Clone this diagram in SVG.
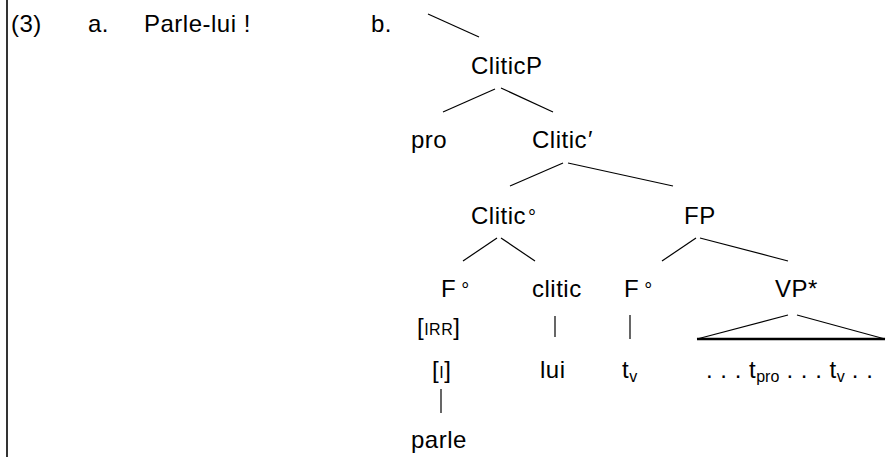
<svg xmlns="http://www.w3.org/2000/svg" width="886" height="457" viewBox="0 0 886 457">
<style>
text{font-family:"Liberation Sans",Arial,sans-serif;font-size:24px;letter-spacing:0.5px;fill:#000}
.sc{font-size:16px}
.sub{font-size:16px;letter-spacing:0}
.deg{font-size:20px}
.ln line{stroke:#000;stroke-width:1.2}
</style>
<rect width="886" height="457" fill="#fff"/>
<line x1="7" y1="0" x2="7" y2="457" stroke="#000" stroke-width="1.6"/>
<g id="labels">
<text x="11" y="32">(3)</text>
<text x="88" y="32">a.</text>
<text x="144" y="32">Parle-lui !</text>
<text x="371" y="32">b.</text>
</g>
<g id="n-cliticp"><text x="471" y="74">CliticP</text></g>
<g id="n-pro"><text x="411" y="148">pro</text></g>
<g id="n-clitic-bar"><text x="532" y="148">Clitic<tspan dx="1">′</tspan></text></g>
<g id="n-clitic0"><text x="471" y="224">Clitic<tspan class="deg" dx="2">°</tspan></text></g>
<g id="n-fp"><text x="684" y="224">FP</text></g>
<g id="n-f0a"><text x="441" y="297">F<tspan class="deg" dx="5">°</tspan></text></g>
<g id="n-clitic"><text x="532" y="297">clitic</text></g>
<g id="n-f0b"><text x="624" y="297">F<tspan class="deg" dx="5">°</tspan></text></g>
<g id="n-vp"><text x="775" y="297">VP*</text></g>
<g id="n-irr"><text x="417" y="335">[<tspan class="sc">IRR</tspan>]</text></g>
<g id="n-i"><text x="432" y="378">[<tspan class="sc">I</tspan>]</text></g>
<g id="n-lui"><text x="540" y="378">lui</text></g>
<g id="n-tv"><text x="622" y="378">t<tspan class="sub" dy="4">v</tspan></text></g>
<g id="n-string"><text x="706" y="378">. . . t<tspan class="sub" dy="4">pro</tspan><tspan dy="-4"> . . . t</tspan><tspan class="sub" dy="4">v</tspan><tspan dy="-4"> . .</tspan></text></g>
<g id="n-parle"><text x="411" y="448">parle</text></g>
<g id="connectors" class="ln">
<line x1="428" y1="14" x2="479" y2="37"/>
<line x1="495" y1="89" x2="443" y2="112"/>
<line x1="501" y1="88" x2="553" y2="112"/>
<line x1="563" y1="163" x2="510" y2="186"/>
<line x1="568" y1="163" x2="673" y2="186"/>
<line x1="497" y1="238" x2="463" y2="261"/>
<line x1="501" y1="238" x2="535" y2="261"/>
<line x1="696" y1="238" x2="662" y2="261"/>
<line x1="700" y1="238" x2="788" y2="261"/>
<line x1="555" y1="316" x2="555" y2="337"/>
<line x1="630" y1="315" x2="630" y2="339"/>
<line x1="788" y1="315" x2="697" y2="339"/>
<line x1="797" y1="315" x2="885" y2="339"/>
<line x1="697" y1="339" x2="885" y2="339" style="stroke-width:2.4"/>
<line x1="441" y1="389" x2="441" y2="413"/>
</g>
</svg>
